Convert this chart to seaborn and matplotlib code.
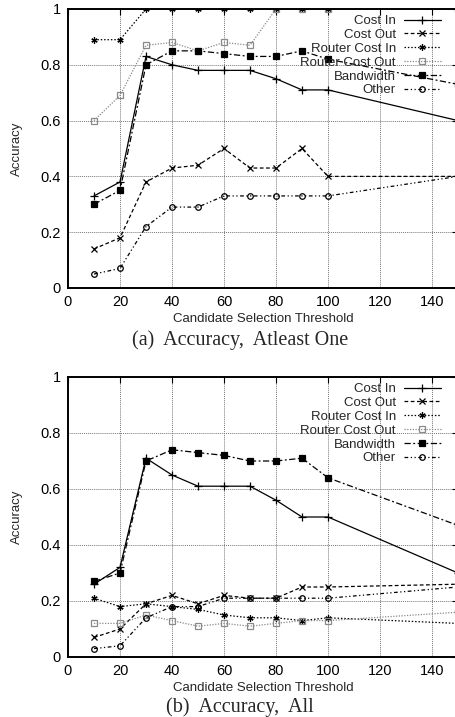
import seaborn as sns
import pandas as pd
import matplotlib.pyplot as plt

# threshold values (x)
threshold = [10, 20, 30, 40, 50, 60, 70, 80, 90, 100, 150]

# (a) Accuracy, Atleast One
a_cost_in = [0.33, 0.38, 0.83, 0.80, 0.78, 0.78, 0.78, 0.75, 0.71, 0.71, 0.60]
a_cost_out = [0.14, 0.18, 0.38, 0.43, 0.44, 0.50, 0.43, 0.43, 0.50, 0.40, 0.40]
a_router_in = [0.89, 0.89, 1.00, 1.00, 1.00, 1.00, 1.00, 1.00, 1.00, 1.00, 1.00]
a_router_out = [0.60, 0.69, 0.87, 0.88, 0.85, 0.88, 0.87, 1.00, 1.00, 1.00, 1.00]
a_bandwidth = [0.30, 0.35, 0.80, 0.85, 0.85, 0.84, 0.83, 0.83, 0.85, 0.82, 0.73]
a_other = [0.05, 0.07, 0.22, 0.29, 0.29, 0.33, 0.33, 0.33, 0.33, 0.33, 0.40]

# (b) Accuracy, All
b_cost_in = [0.26, 0.32, 0.71, 0.65, 0.61, 0.61, 0.61, 0.56, 0.50, 0.50, 0.30]
b_cost_out = [0.07, 0.10, 0.19, 0.22, 0.19, 0.22, 0.21, 0.21, 0.25, 0.25, 0.26]
b_router_in = [0.21, 0.18, 0.19, 0.18, 0.17, 0.15, 0.14, 0.14, 0.13, 0.14, 0.12]
b_router_out = [0.12, 0.12, 0.15, 0.13, 0.11, 0.12, 0.11, 0.12, 0.13, 0.13, 0.16]
b_bandwidth = [0.27, 0.30, 0.70, 0.74, 0.73, 0.72, 0.70, 0.70, 0.71, 0.64, 0.47]
b_other = [0.03, 0.04, 0.14, 0.18, 0.18, 0.21, 0.21, 0.21, 0.21, 0.21, 0.25]

series_names = ["Cost In", "Cost Out", "Router Cost In", "Router Cost Out", "Bandwidth", "Other"]

# line style for each series: color, dashes, marker, marker fill
styles = {
    "Cost In": dict(color="black", ls="-", marker="+", mfc="black", ms=5.5),
    "Cost Out": dict(color="black", ls=(0, (3, 2)), marker="x", mfc="black", ms=4),
    "Router Cost In": dict(color="black", ls=(0, (1.2, 1.5)), marker=(6, 2, 0), mfc="black", ms=4.5),
    "Router Cost Out": dict(color="#8a8a8a", ls=(0, (1, 1.2)), marker="s", mfc="none", ms=4.5),
    "Bandwidth": dict(color="black", ls=(0, (5, 2, 1.5, 2)), marker="s", mfc="black", ms=5),
    "Other": dict(color="black", ls=(0, (3, 2, 1, 2, 1, 2)), marker="o", mfc="none", ms=4),
}

sns.set_style("white")
plt.rcParams["font.family"] = ["Liberation Sans", "DejaVu Sans"]
plt.rcParams["font.size"] = 10

fig = plt.figure(figsize=(4.56, 7.17), dpi=100)
ax_a = fig.add_axes([68 / 456, 1 - 288 / 717, 390 / 456, 279 / 717])
ax_b = fig.add_axes([68 / 456, 1 - 657 / 717, 390 / 456, 280 / 717])


def draw(ax, values, caption):
    df = pd.DataFrame({"threshold": threshold})
    for name, vals in zip(series_names, values):
        df[name] = vals
    for name in series_names:
        st = styles[name]
        sns.lineplot(data=df, x="threshold", y=name, ax=ax, label=name,
                     color=st["color"], linestyle=st["ls"], linewidth=0.9,
                     marker=st["marker"], markersize=st["ms"],
                     markerfacecolor=st["mfc"], markeredgecolor=st["color"],
                     markeredgewidth=0.9)
    ax.set_xlim(0, 150)
    ax.set_ylim(0, 1)
    ax.set_xticks(range(0, 141, 20))
    ax.set_yticks([0, 0.2, 0.4, 0.6, 0.8, 1])
    ax.set_yticklabels(["0", "0.2", "0.4", "0.6", "0.8", "1"])
    ax.grid(True, color="#777777", linestyle=(0, (1, 1)), linewidth=0.7)
    ax.tick_params(direction="in", length=4, width=0.8, top=True, right=True,
                   labelsize=10.5, pad=5, colors="black")
    for sp in ax.spines.values():
        sp.set_linewidth(1.4)
        sp.set_color("black")
    ax.set_xlabel("Candidate Selection Threshold", fontsize=9.5, labelpad=3)
    ax.set_ylabel("Accuracy", fontsize=9.5, labelpad=13)
    ax.legend(loc="upper right", bbox_to_anchor=(0.956, 0.9785), frameon=False,
              markerfirst=False, fontsize=9.5, handlelength=2.8, handletextpad=0.6,
              labelspacing=0.12, borderpad=0, borderaxespad=0)
    fig.text(240 / 456, 0, caption, ha="center", va="center",
             fontsize=14.5, family=["Liberation Serif", "DejaVu Serif"])


draw(ax_a, [a_cost_in, a_cost_out, a_router_in, a_router_out, a_bandwidth, a_other],
     "(a)  Accuracy,  Atleast One")
draw(ax_b, [b_cost_in, b_cost_out, b_router_in, b_router_out, b_bandwidth, b_other],
     "(b)  Accuracy,  All")

# place captions under each panel
caps = fig.texts
caps[0].set_y(1 - 340 / 717)
caps[1].set_y(1 - 707 / 717)

fig.savefig("out.png", dpi=100)
